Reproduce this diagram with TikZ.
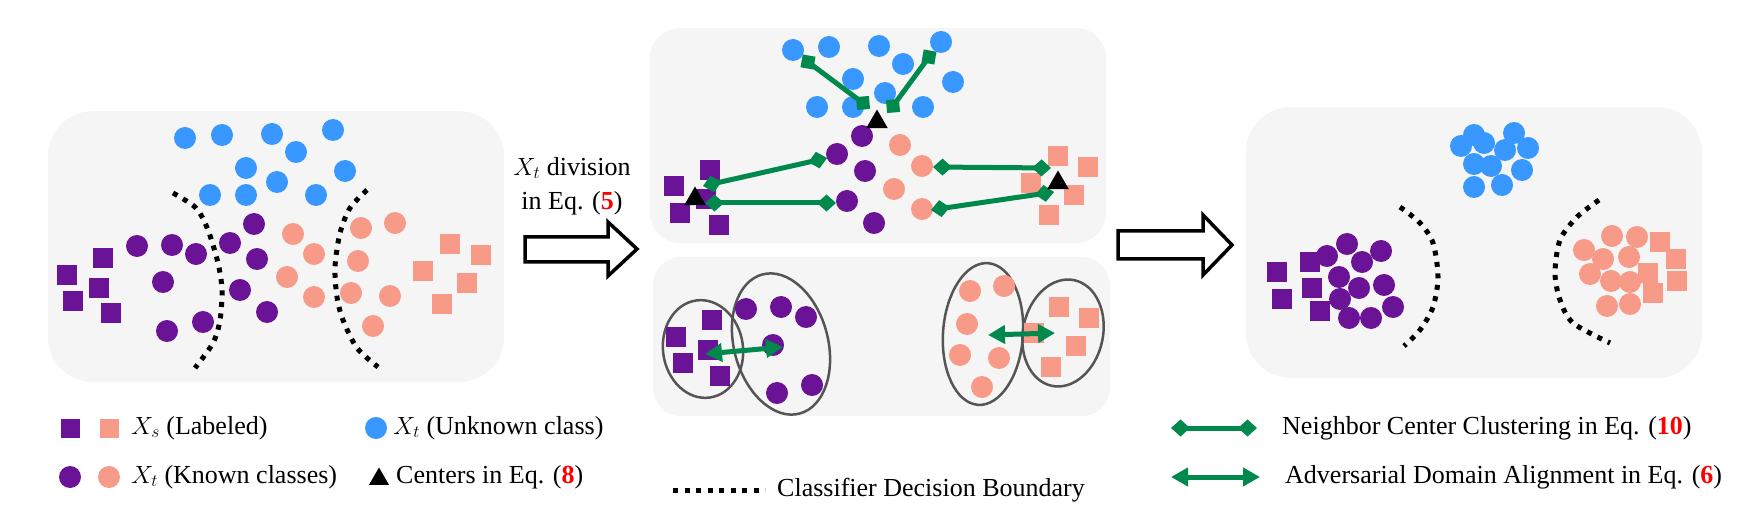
\documentclass[tikz,border=0pt]{standalone}
\usepackage{fontspec}
\setmainfont{Liberation Serif}
\usepackage{amsmath}
\usepackage{color}
\usetikzlibrary{arrows.meta,shapes.geometric}

\definecolor{clpurple}{RGB}{106,19,150}
\definecolor{clsalmon}{RGB}{247,155,136}
\definecolor{clblue}{RGB}{56,152,255}
\definecolor{clgreen}{RGB}{0,137,76}
\definecolor{panelgray}{RGB}{245,245,245}
\definecolor{ringgray}{RGB}{85,85,85}

\tikzset{
  ptdot/.style={circle,fill=#1,inner sep=0pt,minimum size=22pt},
  ptsq/.style={rectangle,fill=#1,inner sep=0pt,minimum size=20pt},
  ctrmark/.style={regular polygon,regular polygon sides=3,fill=black,inner sep=0pt,minimum size=25pt},
  panel/.style={fill=panelgray,rounded corners=#1},
  bound/.style={line width=5pt,dash pattern=on 5pt off 6.5pt},
  sqend/.style={rectangle,fill=clgreen,inner sep=0pt,minimum size=13pt},
  nccline/.style={clgreen,line width=5pt},
  nccdia/.style={clgreen,line width=5pt,{Diamond[length=19pt,width=17pt]}-{Diamond[length=19pt,width=17pt]}},
  ada/.style={clgreen,line width=5pt,{Triangle[length=17pt,width=18pt]}-{Triangle[length=17pt,width=18pt]}},
  ring/.style={ringgray,line width=2.5pt},
  blockarrow/.style={draw=black,fill=white,line width=3.5pt,line join=miter},
  legtext/.style={anchor=west,inner sep=0pt}
}

\begin{document}
\begin{tikzpicture}[x=1pt,y=-1pt,font=\fontsize{26}{34}\selectfont]

\useasboundingbox (0,0) rectangle (1760,510);

% panels
\fill [panel=45pt] (48,111) rectangle (504,382);
\fill [panel=30pt] (650,28) rectangle (1106,243);
\fill [panel=28pt] (653,257) rectangle (1110,416);
\fill [panel=45pt] (1246,107) rectangle (1702,378);

% ---- panel 1
\draw [bound] plot [smooth] coordinates {(173,193) (196,208) (208,230) (218,263) (222,290) (220,320) (213,343) (195,368)};
\draw [bound] plot [smooth] coordinates {(367,190) (350,208) (340,233) (335,267) (337,297) (343,320) (357,348) (378,367)};

\foreach \p in {(185,138),(222,135),(272,134),(333,130),(296,152),(246,168),(277,182),(345,171),(210,195),(246,195),(316,195)}
  \node at \p [ptdot=clblue] {};
\foreach \p in {(254,224),(137,246),(172,245),(196,254),(230,243),(257,259),(163,282),(240,290),(267,312),(167,331),(203,322)}
  \node at \p [ptdot=clpurple] {};
\foreach \p in {(293,234),(314,254),(287,277),(314,297),(361,228),(395,223),(358,261),(351,293),(390,296),(373,326)}
  \node at \p [ptdot=clsalmon] {};
\foreach \p in {(67,275),(103,258),(99,288),(73,301),(111,313)}
  \node at \p [ptsq=clpurple] {};
\foreach \p in {(450,244),(481,255),(423,271),(467,283),(442,304)}
  \node at \p [ptsq=clsalmon] {};

% ---- step arrow 1
\node (divtext) at (572,186) [align=center] {$X_t$ division\\in Eq. (\textcolor{red}{\textbf{5}})};
\draw [blockarrow] (525,237) -- (608,237) -- (608,222) -- (637,249) -- (608,276) -- (608,262) -- (525,262) -- cycle;

% ---- panel 2, top
\foreach \p in {(793,50),(829,47),(879,46),(903,64),(941,42),(853,79),(885,93),(953,82),(817,107),(853,107),(923,107)}
  \node at \p [ptdot=clblue] {};
\foreach \p in {(862,136),(837,154),(865,171),(847,201),(874,223)}
  \node at \p [ptdot=clpurple] {};
\foreach \p in {(900,145),(922,166),(894,189),(922,209)}
  \node at \p [ptdot=clsalmon] {};
\foreach \p in {(710,170),(674,186),(680,213),(719,225),(706,199)}
  \node at \p [ptsq=clpurple] {};
\foreach \p in {(1058,156),(1088,167),(1031,183),(1074,195),(1049,215)}
  \node at \p [ptsq=clsalmon] {};

\coordinate (ub1) at (808,62);
\coordinate (ub2) at (863,103);
\coordinate (ub3) at (929,57);
\coordinate (ub4) at (893,106);
\draw [nccline] (ub1) -- (ub2);
\draw [nccline] (ub3) -- (ub4);
\node (ube1) at (ub1) [sqend, rotate=-10] {};
\node (ube2) at (ub2) [sqend, rotate=5] {};
\node (ube3) at (ub3) [sqend, rotate=-10] {};
\node (ube4) at (ub4) [sqend, rotate=5] {};

\coordinate (pl1) at (703,186);
\coordinate (pl2) at (827,158);
\coordinate (pl3) at (705,203);
\coordinate (pl4) at (836,203);
\coordinate (sr1) at (933,167);
\coordinate (sr2) at (1051,168);
\coordinate (sr3) at (931,210);
\coordinate (sr4) at (1054,192);
\draw [nccdia] (pl1) -- (pl2);
\draw [nccdia] (pl3) -- (pl4);
\draw [nccdia] (sr1) -- (sr2);
\draw [nccdia] (sr3) -- (sr4);

\node (cunk) at (877,122) [ctrmark] {};
\node (cpur) at (695,199) [ctrmark] {};
\node (csal) at (1058,183) [ctrmark] {};

% ---- panel 2, bottom
\draw [ring, rotate around={8:(703,349)}] (703,349) ellipse [x radius=40pt, y radius=49pt];
\draw [ring, rotate around={15:(781,344)}] (781,344) ellipse [x radius=47pt, y radius=72pt];
\draw [ring, rotate around={-4:(983,334)}] (983,334) ellipse [x radius=40pt, y radius=71pt];
\draw [ring, rotate around={-12:(1063,333)}] (1063,333) ellipse [x radius=40pt, y radius=54pt];

\foreach \p in {(676,337),(712,320),(708,350),(683,363),(720,376)}
  \node at \p [ptsq=clpurple] {};
\foreach \p in {(746,309),(781,307),(806,317),(773,345),(777,393),(812,385)}
  \node at \p [ptdot=clpurple] {};
\foreach \p in {(970,291),(1004,286),(967,324),(960,355),(999,358),(982,387)}
  \node at \p [ptdot=clsalmon] {};
\foreach \p in {(1059,307),(1089,318),(1034,333),(1076,346),(1051,367)}
  \node at \p [ptsq=clsalmon] {};

\coordinate (al1) at (705,354);
\coordinate (al2) at (783,347);
\coordinate (ar1) at (988,335);
\coordinate (ar2) at (1055,333);
\draw [ada] (al1) -- (al2);
\draw [ada] (ar1) -- (ar2);

% ---- step arrow 2
\draw [blockarrow] (1118,231) -- (1203,231) -- (1203,215) -- (1232,245) -- (1203,275) -- (1203,259) -- (1118,259) -- cycle;

% ---- panel 3
\draw [bound] plot [smooth] coordinates {(1400,207) (1420,223) (1433,243) (1438,277) (1433,307) (1420,330) (1404,346)};
\draw [bound] plot [smooth] coordinates {(1599,200) (1577,217) (1560,240) (1555,273) (1560,300) (1573,323) (1610,343)};

\foreach \p in {(1461,146),(1474,135),(1484,143),(1514,133),(1505,150),(1528,148),(1474,164),(1491,166),(1522,170),(1474,187),(1502,185)}
  \node at \p [ptdot=clblue] {};
\foreach \p in {(1277,272),(1310,262),(1312,288),(1282,299),(1320,311)}
  \node at \p [ptsq=clpurple] {};
\foreach \p in {(1327,256),(1347,244),(1381,251),(1362,262),(1339,277),(1359,288),(1384,285),(1340,299),(1393,307),(1349,318),(1371,318)}
  \node at \p [ptdot=clpurple] {};
\foreach \p in {(1660,242),(1676,259),(1648,273),(1677,281),(1653,293)}
  \node at \p [ptsq=clsalmon] {};
\foreach \p in {(1584,250),(1612,236),(1637,237),(1603,259),(1629,257),(1590,274),(1611,281),(1630,282),(1607,306),(1630,304)}
  \node at \p [ptdot=clsalmon] {};

% ---- legend
\node (lgsq1) at (70,428) [ptsq=clpurple, minimum size=19pt] {};
\node (lgsq2) at (109,428) [ptsq=clsalmon, minimum size=19pt] {};
\node (lgxs) at (131,428) [legtext] {$X_s$ (Labeled)};
\node (lgdot1) at (70,477) [ptdot=clpurple] {};
\node (lgdot2) at (109,477) [ptdot=clsalmon] {};
\node (lgknown) at (131,477) [legtext] {$X_t$ (Known classes)};
\node (lgblue) at (376,428) [ptdot=clblue] {};
\node (lgunk) at (393,428) [legtext] {$X_t$ (Unknown class)};
\node (lgtri) at (379,479) [ctrmark, minimum size=23pt] {};
\node (lgctr) at (396,477) [legtext] {Centers in Eq. (\textcolor{red}{\textbf{8}})};

\coordinate (lgb1) at (673,490);
\coordinate (lgb2) at (765,490);
\draw [bound] (lgb1) -- (lgb2);
\node (lgbound) at (777,490) [legtext] {Classifier Decision Boundary};

\coordinate (lgn1) at (1171,428);
\coordinate (lgn2) at (1257,428);
\draw [nccdia] (lgn1) -- (lgn2);
\node (lgncc) at (1282,428) [legtext] {Neighbor Center Clustering in Eq. (\textcolor{red}{\textbf{10}})};

\coordinate (lga1) at (1171,477);
\coordinate (lga2) at (1260,477);
\draw [ada] (lga1) -- (lga2);
\node (lgada) at (1285,477) [legtext] {Adversarial Domain Alignment in Eq. (\textcolor{red}{\textbf{6}})};

\end{tikzpicture}
\end{document}
